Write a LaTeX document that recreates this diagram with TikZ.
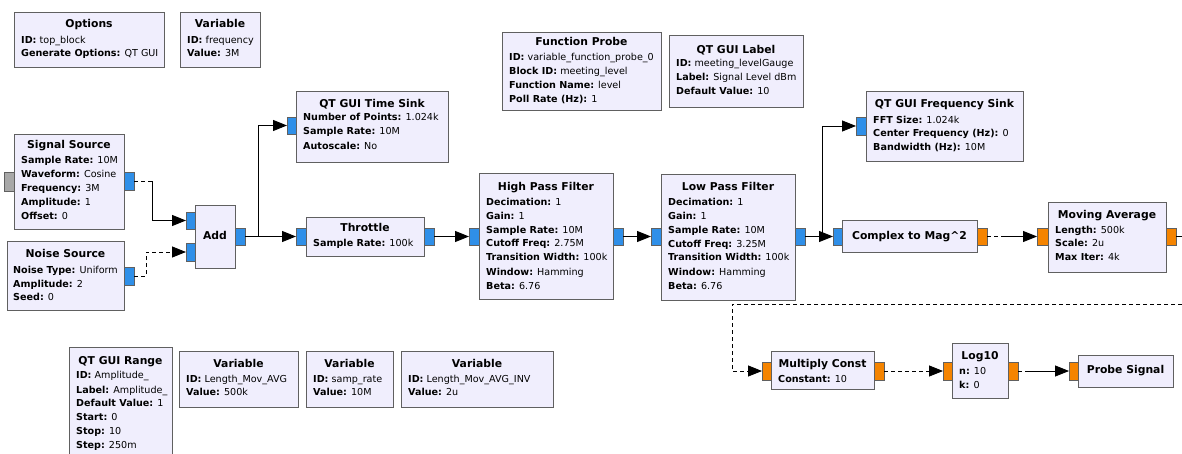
\documentclass[tikz,border=0pt]{standalone}
\usepackage{fontspec}
\setmainfont{DejaVu Sans}
\usetikzlibrary{arrows.meta}
\definecolor{blkfill}{HTML}{F0EEFD}
\definecolor{bord}{HTML}{606060}
\definecolor{pblue}{HTML}{2F8FE8}
\definecolor{porange}{HTML}{F58400}
\definecolor{pgray}{HTML}{A8A8A8}
\newcommand\ttlf{\fontsize{10.8}{12}\selectfont\bfseries}
\newcommand\prmf{\fontsize{9.6}{11}\selectfont}
\newcommand\grcblock[5]{\node[blk, minimum width={#4-#2}, minimum height={#5-#3}] (#1) at ({(#2+#4)/2},{(#3+#5)/2}) {};}
\newcommand\grcport[6]{\node[port, fill=#6, minimum width={#4-#2}, minimum height={#5-#3}] (#1) at ({(#2+#4)/2},{(#3+#5)/2}) {};}
\tikzset{
  blk/.style={draw=bord, fill=blkfill, line width=0.9pt, inner sep=0pt, outer sep=0pt},
  port/.style={draw=bord, line width=0.8pt, inner sep=0pt, outer sep=0pt},
  ttl/.style={font=\ttlf, anchor=base, inner sep=0pt},
  prm/.style={font=\prmf, anchor=base west, inner sep=0pt},
  conn/.style={line width=0.8pt, -{Triangle[length=14pt,width=11pt]}},
  plain/.style={line width=0.8pt},
  dsh/.style={dash pattern=on 4pt off 3pt},
}
\begin{document}
\begin{tikzpicture}[x=1pt,y=-1pt]
\useasboundingbox (0,0) rectangle (1182,454);
\fill[white] (0,0) rectangle (1182,454);
% ---------------- blocks ----------------
\grcblock{opt}{14}{12}{164}{67}
\node[ttl] (opt-t) at (89,28) {Options};
\node[prm] (opt-1) at (21,43.5) {\textbf{ID:} top\_block};
\node[prm] (opt-2) at (21,57) {\textbf{Generate Options:} QT GUI};

\grcblock{varf}{180}{12}{260}{67}
\node[ttl] (varf-t) at (220,28) {Variable};
\node[prm] (varf-1) at (187,43.5) {\textbf{ID:} frequency};
\node[prm] (varf-2) at (187,57) {\textbf{Value:} 3M};

\grcblock{tsink}{296}{91}{448}{162}
\node[ttl] (tsink-t) at (372,108) {QT GUI Time Sink};
\node[prm] (tsink-1) at (303,121) {\textbf{Number of Points:} 1.024k};
\node[prm] (tsink-2) at (303,135) {\textbf{Sample Rate:} 10M};
\node[prm] (tsink-3) at (303,149.5) {\textbf{Autoscale:} No};

\grcblock{fprobe}{502}{32}{661}{110}
\node[ttl] (fprobe-t) at (581.5,46) {Function Probe};
\node[prm] (fprobe-1) at (509,61) {\textbf{ID:} variable\_function\_probe\_0};
\node[prm] (fprobe-2) at (509,74.5) {\textbf{Block ID:} meeting\_level};
\node[prm] (fprobe-3) at (509,88.5) {\textbf{Function Name:} level};
\node[prm] (fprobe-4) at (509,102.5) {\textbf{Poll Rate (Hz):} 1};

\grcblock{qlabel}{669}{35}{803}{107}
\node[ttl] (qlabel-t) at (736,53.5) {QT GUI Label};
\node[prm] (qlabel-1) at (676,67) {\textbf{ID:} meeting\_levelGauge};
\node[prm] (qlabel-2) at (676,81) {\textbf{Label:} Signal Level dBm};
\node[prm] (qlabel-3) at (676,95) {\textbf{Default Value:} 10};

\grcblock{fsink}{866}{91}{1023}{161}
\node[ttl] (fsink-t) at (944.5,108) {QT GUI Frequency Sink};
\node[prm] (fsink-1) at (873,123.5) {\textbf{FFT Size:} 1.024k};
\node[prm] (fsink-2) at (873,137) {\textbf{Center Frequency (Hz):} 0};
\node[prm] (fsink-3) at (873,150.5) {\textbf{Bandwidth (Hz):} 10M};

\grcblock{sigsrc}{14}{134}{124}{229}
\node[ttl] (sigsrc-t) at (69,149) {Signal Source};
\node[prm] (sigsrc-1) at (21,164) {\textbf{Sample Rate:} 10M};
\node[prm] (sigsrc-2) at (21,178) {\textbf{Waveform:} Cosine};
\node[prm] (sigsrc-3) at (21,192) {\textbf{Frequency:} 3M};
\node[prm] (sigsrc-4) at (21,205.5) {\textbf{Amplitude:} 1};
\node[prm] (sigsrc-5) at (21,219.5) {\textbf{Offset:} 0};

\grcblock{noise}{7}{241}{124}{310}
\node[ttl] (noise-t) at (65.5,258) {Noise Source};
\node[prm] (noise-1) at (13,273) {\textbf{Noise Type:} Uniform};
\node[prm] (noise-2) at (13,287) {\textbf{Amplitude:} 2};
\node[prm] (noise-3) at (13,300.5) {\textbf{Seed:} 0};

\grcblock{add}{195}{205}{235}{268}
\node[ttl] (add-t) at (215,240) {Add};

\grcblock{thr}{306}{217}{424}{256}
\node[ttl] (thr-t) at (365,232) {Throttle};
\node[prm] (thr-1) at (313,247) {\textbf{Sample Rate:} 100k};

\grcblock{hpf}{479}{173}{613}{299}
\node[ttl] (hpf-t) at (546,191) {High Pass Filter};
\node[prm] (hpf-1) at (486,206) {\textbf{Decimation:} 1};
\node[prm] (hpf-2) at (486,219.5) {\textbf{Gain:} 1};
\node[prm] (hpf-3) at (486,233.5) {\textbf{Sample Rate:} 10M};
\node[prm] (hpf-4) at (486,247) {\textbf{Cutoff Freq:} 2.75M};
\node[prm] (hpf-5) at (486,261) {\textbf{Transition Width:} 100k};
\node[prm] (hpf-6) at (486,275) {\textbf{Window:} Hamming};
\node[prm] (hpf-7) at (486,289) {\textbf{Beta:} 6.76};

\grcblock{lpf}{661}{174}{795}{300}
\node[ttl] (lpf-t) at (728,191) {Low Pass Filter};
\node[prm] (lpf-1) at (668,206) {\textbf{Decimation:} 1};
\node[prm] (lpf-2) at (668,219.5) {\textbf{Gain:} 1};
\node[prm] (lpf-3) at (668,233.5) {\textbf{Sample Rate:} 10M};
\node[prm] (lpf-4) at (668,247.5) {\textbf{Cutoff Freq:} 3.25M};
\node[prm] (lpf-5) at (668,261) {\textbf{Transition Width:} 100k};
\node[prm] (lpf-6) at (668,275) {\textbf{Window:} Hamming};
\node[prm] (lpf-7) at (668,289) {\textbf{Beta:} 6.76};

\grcblock{c2m}{842}{220}{977}{252}
\node[ttl] (c2m-t) at (909.5,240) {Complex to Mag\textasciicircum 2};

\grcblock{ma}{1048}{202}{1166}{272}
\node[ttl] (ma-t) at (1107,219) {Moving Average};
\node[prm] (ma-1) at (1055,233.5) {\textbf{Length:} 500k};
\node[prm] (ma-2) at (1055,247) {\textbf{Scale:} 2u};
\node[prm] (ma-3) at (1055,261) {\textbf{Max Iter:} 4k};

\grcblock{range}{69}{347}{172}{462}
\node[ttl] (range-t) at (120.5,364) {QT GUI Range};
\node[prm] (range-1) at (76,378) {\textbf{ID:} Amplitude\_};
\node[prm] (range-2) at (76,393) {\textbf{Label:} Amplitude\_};
\node[prm] (range-3) at (76,406.5) {\textbf{Default Value:} 1};
\node[prm] (range-4) at (76,420.5) {\textbf{Start:} 0};
\node[prm] (range-5) at (76,434) {\textbf{Stop:} 10};
\node[prm] (range-6) at (76,448) {\textbf{Step:} 250m};

\grcblock{vlma}{179}{351}{298}{407}
\node[ttl] (vlma-t) at (238.5,367) {Variable};
\node[prm] (vlma-1) at (186,382) {\textbf{ID:} Length\_Mov\_AVG};
\node[prm] (vlma-2) at (186,395.5) {\textbf{Value:} 500k};

\grcblock{vsr}{306}{351}{393}{407}
\node[ttl] (vsr-t) at (349.5,367) {Variable};
\node[prm] (vsr-1) at (313,382) {\textbf{ID:} samp\_rate};
\node[prm] (vsr-2) at (313,395.5) {\textbf{Value:} 10M};

\grcblock{vlmai}{401}{351}{553}{407}
\node[ttl] (vlmai-t) at (477,367) {Variable};
\node[prm] (vlmai-1) at (408,382) {\textbf{ID:} Length\_Mov\_AVG\_INV};
\node[prm] (vlmai-2) at (408,395.5) {\textbf{Value:} 2u};

\grcblock{mc}{771}{351}{874}{389}
\node[ttl] (mc-t) at (822.5,367) {Multiply Const};
\node[prm] (mc-1) at (778,382) {\textbf{Constant:} 10};

\grcblock{log}{952}{343}{1008}{398}
\node[ttl] (log-t) at (980,359) {Log10};
\node[prm] (log-1) at (959,374.5) {\textbf{n:} 10};
\node[prm] (log-2) at (959,388) {\textbf{k:} 0};

\grcblock{probe}{1078}{355}{1173}{387}
\node[ttl] (probe-t) at (1125.5,373) {Probe Signal};

% ---------------- ports ----------------
\grcport{sigsrc-msg}{4}{172}{14}{191}{pgray}
\grcport{sigsrc-out}{124}{172}{134}{190}{pblue}
\grcport{noise-out}{124}{267}{134}{285}{pblue}
\grcport{add-in1}{186}{212}{195}{229}{pblue}
\grcport{add-in2}{186}{243}{195}{261}{pblue}
\grcport{add-out}{235}{228}{245}{245}{pblue}
\grcport{tsink-in}{287}{117}{296}{134}{pblue}
\grcport{thr-in}{296}{228}{306}{245}{pblue}
\grcport{thr-out}{424}{228}{434}{245}{pblue}
\grcport{hpf-in}{469}{228}{479}{245}{pblue}
\grcport{hpf-out}{613}{228}{623}{245}{pblue}
\grcport{lpf-in}{651}{228}{661}{245}{pblue}
\grcport{lpf-out}{795}{228}{805}{245}{pblue}
\grcport{fsink-in}{856}{117}{866}{135}{pblue}
\grcport{c2m-in}{833}{228}{842}{245}{pblue}
\grcport{c2m-out}{977}{228}{987}{245}{porange}
\grcport{ma-in}{1037}{228}{1048}{245}{porange}
\grcport{ma-out}{1166}{228}{1176}{245}{porange}
\grcport{mc-in}{762}{362}{771}{380}{porange}
\grcport{mc-out}{874}{362}{884}{380}{porange}
\grcport{log-in}{943}{362}{952}{380}{porange}
\grcport{log-out}{1008}{362}{1018}{380}{porange}
\grcport{probe-in}{1069}{362}{1078}{380}{porange}

% ---------------- connections ----------------
\draw[conn, dash pattern=on 4pt off 3pt on 4pt off 3pt on 300pt] (sigsrc-out.east) -- ++(18,0) |- (add-in1.west);
\draw[conn, dsh] (noise-out.east) -- ++(12,0) |- (add-in2.west);
\draw[conn] (add-out.east) -- ++(13,0) |- (tsink-in.west);
\draw[conn] (add-out.east) -- (thr-in.west);
\draw[conn] (thr-out.east) -- (hpf-in.west);
\draw[conn] (hpf-out.east) -- (lpf-in.west);
\draw[conn] (lpf-out.east) -- ++(17,0) |- (fsink-in.west);
\draw[conn] (lpf-out.east) -- (c2m-in.west);
\draw[conn, dash pattern=on 4pt off 3pt on 4pt off 3pt on 300pt] (c2m-out.east) -- (ma-in.west);
\coordinate (edgeA) at (1182,236.5);
\draw[plain] (ma-out.east) -- (edgeA);
\coordinate (edgeB) at (1182,304);
\draw[conn, dsh] (edgeB) -- ++(-450,0) |- (mc-in.west);
\draw[conn, dsh] (mc-out.east) -- (log-in.west);
\draw[conn, dash pattern=on 4pt off 3pt on 300pt] (log-out.east) -- (probe-in.west);
\end{tikzpicture}
\end{document}
